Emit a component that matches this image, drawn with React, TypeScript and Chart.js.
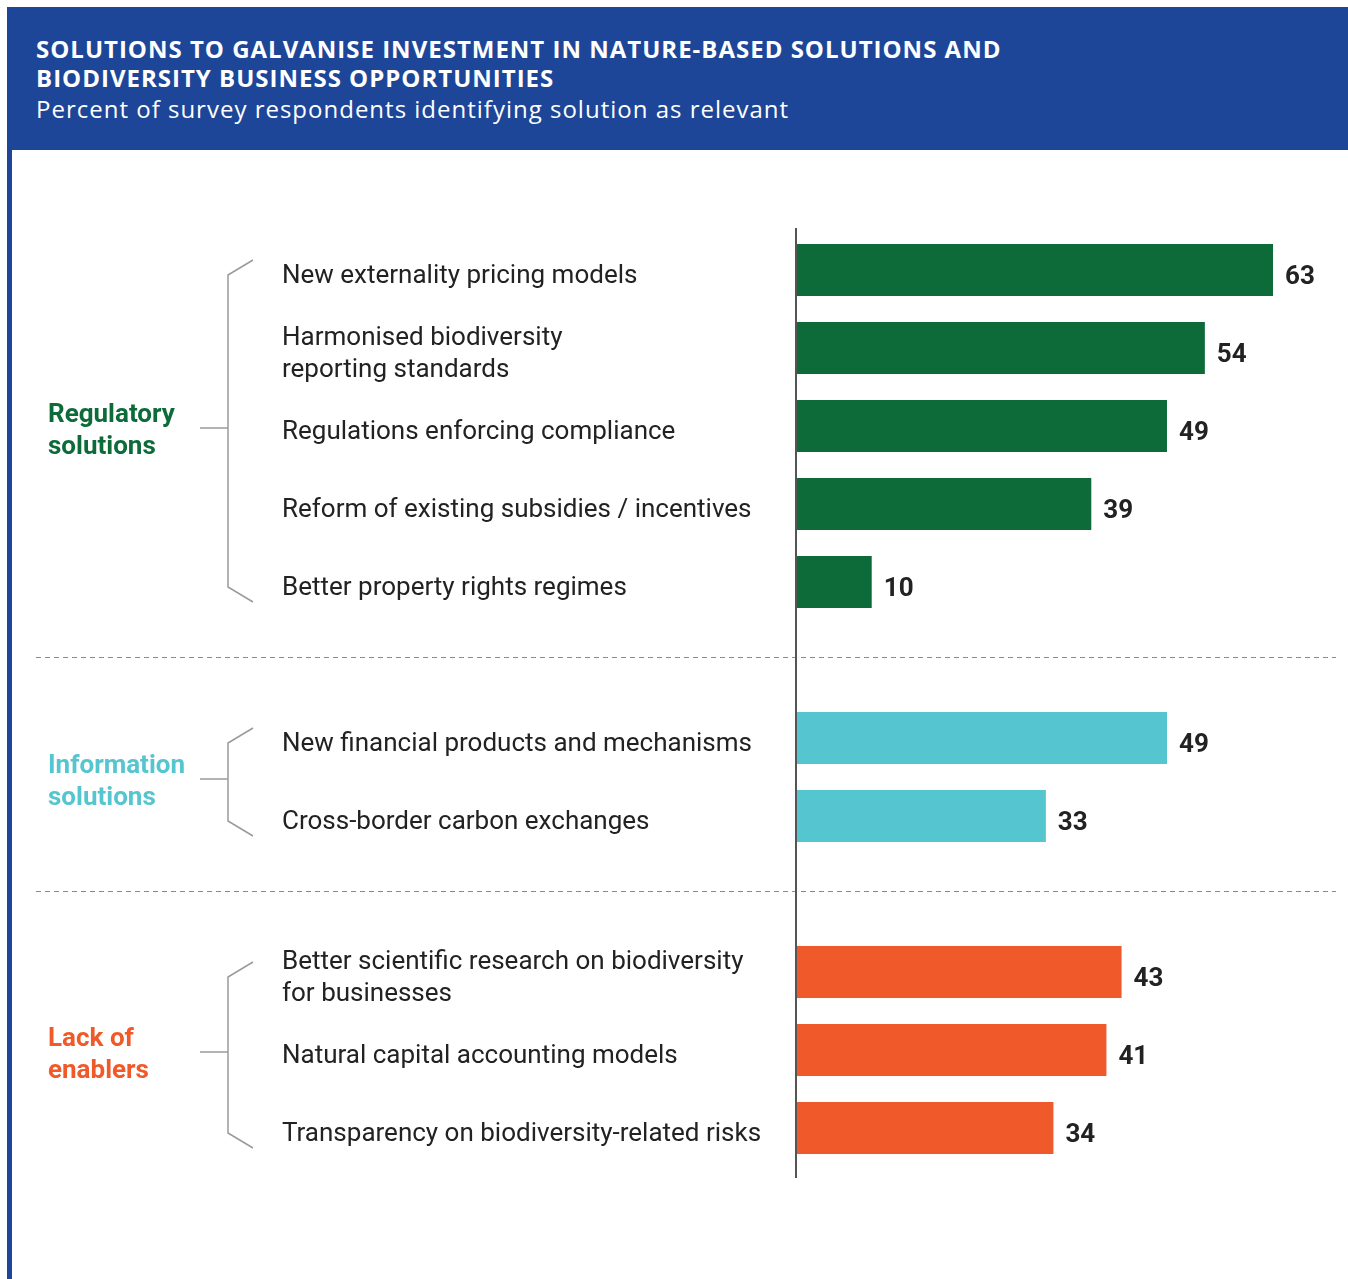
import React, { useEffect, useRef } from "react";
import { Chart, registerables } from "chart.js";

Chart.register(...registerables);

const titleLines = [
  "SOLUTIONS TO GALVANISE INVESTMENT IN NATURE-BASED SOLUTIONS AND",
  "BIODIVERSITY BUSINESS OPPORTUNITIES",
];
const subtitle = "Percent of survey respondents identifying solution as relevant";

const regulatoryName = ["Regulatory", "solutions"];
const regulatoryLabels = [
  "New externality pricing models",
  "Harmonised biodiversity\nreporting standards",
  "Regulations enforcing compliance",
  "Reform of existing subsidies / incentives",
  "Better property rights regimes",
];
const regulatoryValues = [63, 54, 49, 39, 10];

const informationName = ["Information", "solutions"];
const informationLabels = [
  "New financial products and mechanisms",
  "Cross-border carbon exchanges",
];
const informationValues = [49, 33];

const enablerName = ["Lack of", "enablers"];
const enablerLabels = [
  "Better scientific research on biodiversity\nfor businesses",
  "Natural capital accounting models",
  "Transparency on biodiversity-related risks",
];
const enablerValues = [43, 41, 34];

const groupColors = ["#0D6B3A", "#55C5D0", "#F05A2A"];

const groups = [
  { name: regulatoryName, labels: regulatoryLabels, values: regulatoryValues, color: groupColors[0] },
  { name: informationName, labels: informationLabels, values: informationValues, color: groupColors[1] },
  { name: enablerName, labels: enablerLabels, values: enablerValues, color: groupColors[2] },
];

// Build the category table with a blank separator slot between groups
const categories: string[] = [];
const values: (number | null)[] = [];
const colors: string[] = [];
const separatorIdx: number[] = [];
groups.forEach((g, gi) => {
  if (gi > 0) {
    separatorIdx.push(categories.length);
    categories.push("");
    values.push(null);
    colors.push("rgba(0,0,0,0)");
  }
  g.labels.forEach((l, i) => {
    categories.push(l);
    values.push(g.values[i]);
    colors.push(g.color);
  });
});

const FONT = "Roboto, 'Noto Sans', sans-serif";

const annotate = {
  id: "annotate",
  afterDatasetsDraw(chart: any) {
    const ctx = chart.ctx;
    const xs = chart.scales.x;
    const ys = chart.scales.y;
    const area = chart.chartArea;
    ctx.save();

    // dashed separators
    ctx.strokeStyle = "#8a8a8a";
    ctx.lineWidth = 1;
    ctx.setLineDash([5, 4]);
    separatorIdx.forEach((idx) => {
      const y = Math.round(ys.getPixelForValue(idx)) - 2.5;
      ctx.beginPath();
      ctx.moveTo(36, y);
      ctx.lineTo(1336, y);
      ctx.stroke();
    });
    ctx.setLineDash([]);

    // axis line
    const x0 = xs.getPixelForValue(0);
    ctx.strokeStyle = "#555";
    ctx.lineWidth = 2;
    ctx.beginPath();
    ctx.moveTo(x0, area.top - 3);
    ctx.lineTo(x0, area.bottom + 11);
    ctx.stroke();

    // category labels and values
    categories.forEach((label, i) => {
      if (!label) return;
      const yc = ys.getPixelForValue(i);
      const lines = label.split("\n");
      ctx.fillStyle = "#222";
      ctx.font = `400 26px ${FONT}`;
      ctx.textAlign = "left";
      ctx.textBaseline = "middle";
      lines.forEach((ln, k) => {
        ctx.fillText(ln, 282, yc + 6 + (k - (lines.length - 1) / 2) * 32);
      });
      const v = values[i] as number;
      ctx.font = `700 26px ${FONT}`;
      ctx.fillText(String(v), xs.getPixelForValue(v) + 12, yc + 7);
    });

    // group brackets and names
    let start = 0;
    groups.forEach((g) => {
      const first = start;
      const last = start + g.labels.length - 1;
      start = last + 2;
      const yFirst = ys.getPixelForValue(first);
      const yLast = ys.getPixelForValue(last);
      const yTop = yFirst - 10;
      const yBot = yLast + 20;
      const yMid = (yFirst + yLast) / 2 + 2;
      ctx.strokeStyle = "#9a9a9a";
      ctx.lineWidth = 1.5;
      ctx.beginPath();
      ctx.moveTo(253, yTop);
      ctx.lineTo(228, yTop + 15);
      ctx.lineTo(228, yBot - 15);
      ctx.lineTo(253, yBot);
      ctx.stroke();
      ctx.beginPath();
      ctx.moveTo(200, yMid);
      ctx.lineTo(228, yMid);
      ctx.stroke();

      ctx.fillStyle = g.color;
      ctx.font = `700 26px ${FONT}`;
      ctx.textAlign = "left";
      ctx.textBaseline = "middle";
      g.name.forEach((ln, k) => {
        ctx.fillText(ln, 48, yMid + 3 + (k - 0.5) * 32);
      });
    });

    ctx.restore();
  },
};

export default function App() {
  const ref = useRef<HTMLCanvasElement | null>(null);

  useEffect(() => {
    if (!ref.current) return;
    const chart = new Chart(ref.current, {
      type: "bar",
      data: {
        labels: categories,
        datasets: [
          {
            data: values,
            backgroundColor: colors,
            borderWidth: 0,
            barPercentage: 52 / 78,
            categoryPercentage: 1,
          },
        ],
      },
      options: {
        indexAxis: "y",
        responsive: false,
        animation: false,
        devicePixelRatio: 1,
        layout: { padding: { left: 796, right: 22, top: 81, bottom: 112 } },
        scales: {
          x: { type: "linear", min: 0, max: 70, display: false },
          y: { type: "category", display: false },
        },
        plugins: {
          legend: { display: false },
          tooltip: { enabled: false },
        },
      },
      plugins: [annotate],
    } as any);
    return () => chart.destroy();
  }, []);

  return (
    <div style={{ position: "absolute", left: 0, top: 0, width: 1348, height: 1279, background: "#fff", overflow: "hidden" }}>
      <div style={{ position: "absolute", left: 7, top: 7, width: 1341, height: 143, background: "#1D4698" }} />
      <div style={{ position: "absolute", left: 7, top: 150, width: 5, height: 1129, background: "#1D4698" }} />
      <div
        style={{
          position: "absolute",
          left: 36,
          top: 34,
          color: "#fff",
          fontFamily: "'Open Sans', sans-serif",
          fontWeight: 700,
          fontSize: 24,
          letterSpacing: "1px",
          lineHeight: "29px",
          whiteSpace: "nowrap",
        }}
      >
        {titleLines.map((t, i) => (
          <div key={i}>{t}</div>
        ))}
      </div>
      <div
        style={{
          position: "absolute",
          left: 36,
          top: 94,
          color: "#fff",
          fontFamily: "'Open Sans', sans-serif",
          fontWeight: 400,
          fontSize: 24,
          letterSpacing: "1px",
          lineHeight: "30px",
          whiteSpace: "nowrap",
        }}
      >
        {subtitle}
      </div>
      <canvas ref={ref} width={1348} height={1129} style={{ position: "absolute", left: 0, top: 150, width: 1348, height: 1129 }} />
    </div>
  );
}
